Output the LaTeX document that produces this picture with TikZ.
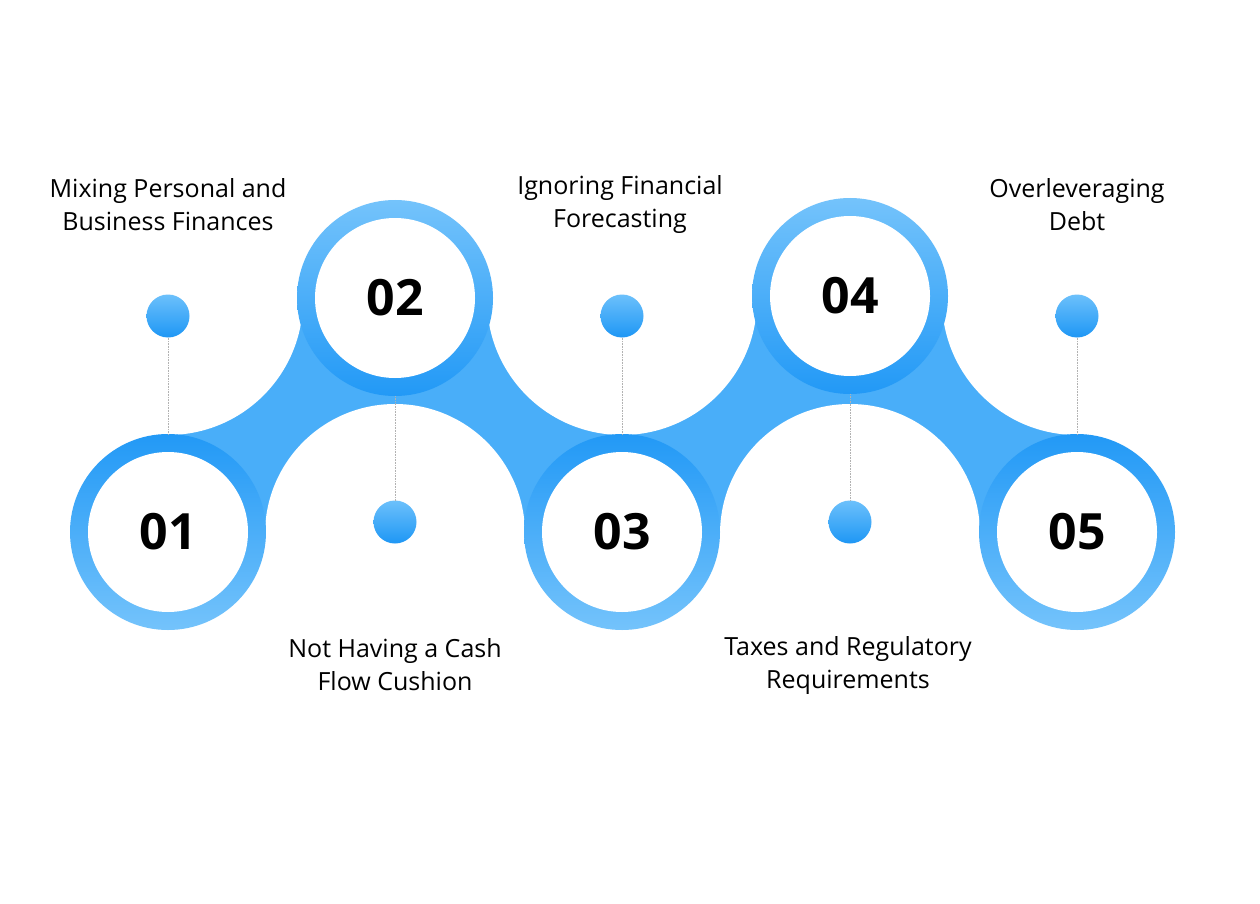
\documentclass[tikz,border=0pt]{standalone}
\usepackage{fontspec}
\setmainfont{Open Sans}
\begin{document}
\begin{tikzpicture}[x=1pt,y=-1pt,
 ringD/.style={circle,minimum size=196pt,inner sep=0pt,top color=#1,bottom color=#1},
 lab/.style={font=\fontsize{25}{33}\selectfont,align=center,text=black},
 num/.style={font=\fontsize{50}{50}\selectfont\bfseries,text=black},
 dot/.style={circle,minimum size=43pt,inner sep=0pt,top color=cA,bottom color=cB},
 link/.style={draw=gray!60,line width=0.6pt,densely dotted}]
\definecolor{cL}{HTML}{74C3FB}
\definecolor{cD}{HTML}{2299F6}
\definecolor{cA}{HTML}{6CC0FB}
\definecolor{cB}{HTML}{1E97F5}
\definecolor{cM}{HTML}{49AEF9}
\useasboundingbox (0,0) rectangle (1260,904);
\fill[white] (0,0) rectangle (1260,904);
% band
\fill[cM] (168,298) rectangle (1077,532);
\foreach \x in {168,622,1077} \fill[white] (\x,300) circle (135);
\foreach \x in {395,850} \fill[white] (\x,534) circle (130);
% rings
\foreach \n/\x/\y/\t/\b in {1/168/532/cD/cL,2/395/298/cL/cD,3/622/532/cD/cL,4/850/296/cL/cD,5/1077/532/cD/cL}{
 \node[circle,minimum size=196pt,inner sep=0pt,top color=\t,bottom color=\b] (r\n) at (\x,\y) {};
 \node[circle,fill=white,minimum size=160pt,inner sep=0pt] (w\n) at (\x,\y) {};
}
\node[num] at (r1) {01};
\node[num] at (r2) {02};
\node[num] at (r3) {03};
\node[num] at (r4) {04};
\node[num] at (r5) {05};
% dots
\node[dot] (d1) at (168,316) {};
\node[dot] (d2) at (395,522) {};
\node[dot] (d3) at (622,316) {};
\node[dot] (d4) at (850,522) {};
\node[dot] (d5) at (1077,316) {};
\draw[link] (d1) -- (r1.north);
\draw[link] (r2.south) -- (d2);
\draw[link] (d3) -- (r3.north);
\draw[link] (r4.south) -- (d4);
\draw[link] (d5) -- (r5.north);
% labels
\node[lab] (t1) at (168,205) {Mixing Personal and\\Business Finances};
\node[lab] (t2) at (395,665) {Not Having a Cash\\Flow Cushion};
\node[lab] (t3) at (620,205) {Ignoring Financial\\Forecasting};
\node[lab] (t4) at (848,665) {Taxes and Regulatory\\Requirements};
\node[lab] (t5) at (1077,205) {Overleveraging\\Debt};
\end{tikzpicture}
\end{document}
